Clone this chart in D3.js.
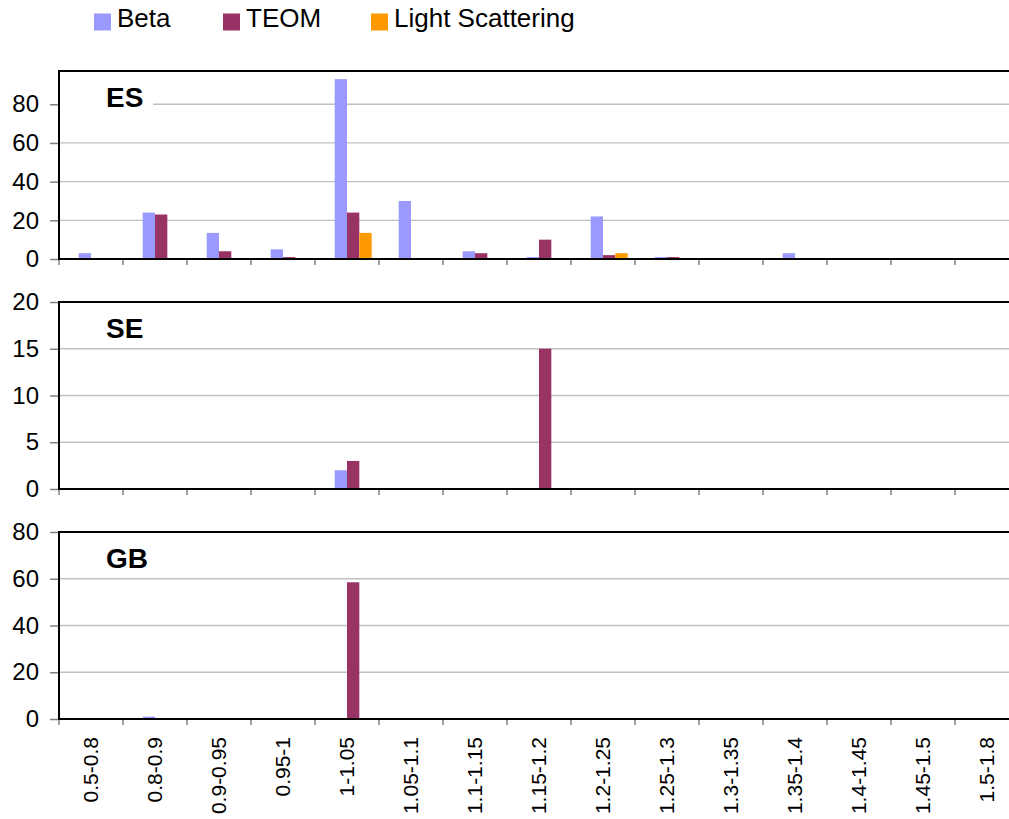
<!DOCTYPE html>
<html>
<head>
<meta charset="utf-8">
<script src="https://cdn.jsdelivr.net/npm/d3@7"></script>
<style>
  html, body { margin: 0; padding: 0; background: #fff; }
  svg { display: block; font-family: "Liberation Sans", Arial, sans-serif; }
</style>
</head>
<body>
<svg id="chart" width="1009" height="819"></svg>
<script>
// Size-class categories shared by all three panels
const categories = ["0.5-0.8", "0.8-0.9", "0.9-0.95", "0.95-1", "1-1.05", "1.05-1.1", "1.1-1.15",
  "1.15-1.2", "1.2-1.25", "1.25-1.3", "1.3-1.35", "1.35-1.4", "1.4-1.45", "1.45-1.5", "1.5-1.8"];

const seriesNames = ["Beta", "TEOM", "Light Scattering"];
const seriesColors = ["#9999ff", "#993366", "#ff9900"];

// ES
const esBeta  = [3, 24, 13.5, 5, 93, 30, 4, 1, 22, 1, 0, 3, 0, 0, 0];
const esTeom  = [0, 23, 4, 1, 24, 0, 3, 10, 2, 1, 0, 0, 0, 0, 0];
const esLight = [0, 0, 0, 0, 13.5, 0, 0, 0, 3, 0, 0, 0, 0, 0, 0];
// SE
const seBeta  = [0, 0, 0, 0, 2, 0, 0, 0, 0, 0, 0, 0, 0, 0, 0];
const seTeom  = [0, 0, 0, 0, 3, 0, 0, 15, 0, 0, 0, 0, 0, 0, 0];
const seLight = [0, 0, 0, 0, 0, 0, 0, 0, 0, 0, 0, 0, 0, 0, 0];
// GB
const gbBeta  = [0, 1, 0, 0, 0, 0, 0, 0, 0, 0, 0, 0, 0, 0, 0];
const gbTeom  = [0, 0, 0, 0, 58.5, 0, 0, 0, 0, 0, 0, 0, 0, 0, 0];
const gbLight = [0, 0, 0, 0, 0, 0, 0, 0, 0, 0, 0, 0, 0, 0, 0];

const esTicks = [0, 20, 40, 60, 80];
const seTicks = [0, 5, 10, 15, 20];
const gbTicks = [0, 20, 40, 60, 80];

const panels = [
  { name: "ES", series: [esBeta, esTeom, esLight], max: 97.2, ticks: esTicks, top: 71,  bottom: 259 },
  { name: "SE", series: [seBeta, seTeom, seLight], max: 20,   ticks: seTicks, top: 302, bottom: 489 },
  { name: "GB", series: [gbBeta, gbTeom, gbLight], max: 80,   ticks: gbTicks, top: 532, bottom: 719 }
];

const svg = d3.select("#chart");
const left = 59, right = 1019;

const x0 = d3.scaleBand().domain(categories).range([left, right]).padding(0);
// four slots per category; the first slot stays empty
const x1 = d3.scaleBand().domain(["", ...seriesNames])
  .range([x0.bandwidth() * 0.115, x0.bandwidth() * 0.885]).padding(0);

panels.forEach((p, pi) => {
  const y = d3.scaleLinear().domain([0, p.max]).range([p.bottom, p.top]);
  const g = svg.append("g");

  // horizontal gridlines
  g.selectAll("line.grid").data(p.ticks.filter(t => t > 0 && y(t) > p.top + 1))
    .join("line").attr("class", "grid")
    .attr("x1", left).attr("x2", right)
    .attr("y1", d => y(d)).attr("y2", d => y(d))
    .attr("stroke", "#c0c0c0").attr("stroke-width", 1.3);

  // panel label on a white box
  g.append("rect").attr("x", left + 1).attr("y", p.top + 12).attr("width", 93).attr("height", 28).attr("fill", "#fff");
  g.append("text").attr("x", 106).attr("y", p.top + 36)
    .attr("font-size", 28).attr("font-weight", "bold").attr("fill", "#000").text(p.name);

  // bars
  p.series.forEach((vals, si) => {
    g.selectAll(null).data(vals.map((v, i) => ({ c: categories[i], v })).filter(d => d.v > 0))
      .join("rect")
      .attr("x", d => x0(d.c) + x1(seriesNames[si]))
      .attr("width", x1.bandwidth())
      .attr("y", d => y(d.v))
      .attr("height", d => p.bottom - y(d.v))
      .attr("fill", seriesColors[si]);
  });

  // y axis
  const yAxis = d3.axisLeft(y).tickValues(p.ticks).tickSize(9).tickPadding(11).tickFormat(d3.format("d"));
  const ya = g.append("g").attr("transform", `translate(${left},0)`).call(yAxis);
  ya.select(".domain").remove();
  ya.selectAll(".tick line").attr("stroke", "#808080").attr("stroke-width", 1.5);
  ya.selectAll(".tick text").attr("font-size", 24).attr("fill", "#000")
    .attr("font-family", "Liberation Sans, Arial, sans-serif");

  // x axis ticks at category boundaries
  const bounds = categories.map(c => x0(c));
  g.selectAll("line.xt").data(bounds).join("line").attr("class", "xt")
    .attr("x1", d => d).attr("x2", d => d)
    .attr("y1", p.bottom).attr("y2", p.bottom + 6)
    .attr("stroke", "#808080").attr("stroke-width", 1.5);

  // plot frame: top, left, bottom
  g.append("line").attr("x1", left).attr("x2", right).attr("y1", p.top).attr("y2", p.top)
    .attr("stroke", "#000").attr("stroke-width", 2);
  g.append("line").attr("x1", left).attr("x2", left).attr("y1", p.top - 1).attr("y2", p.bottom + 1)
    .attr("stroke", "#000").attr("stroke-width", 2);
  g.append("line").attr("x1", left - 1).attr("x2", right).attr("y1", p.bottom).attr("y2", p.bottom)
    .attr("stroke", "#000").attr("stroke-width", 2.2);

  // category labels under the last panel
  if (pi === panels.length - 1) {
    const xAxis = d3.axisBottom(x0).tickSize(0).tickPadding(0);
    const xa = g.append("g").attr("transform", `translate(0,${p.bottom})`).call(xAxis);
    xa.select(".domain").remove();
    xa.selectAll(".tick text")
      .attr("font-size", 21).attr("fill", "#000")
      .attr("font-family", "Liberation Sans, Arial, sans-serif")
      .attr("text-anchor", "end")
      .attr("transform", "rotate(-90)")
      .attr("x", -18).attr("y", 0).attr("dy", "0.33em");
  }
});

// legend
const legendX = [94, 223, 371];
const legend = svg.append("g");
seriesNames.forEach((s, i) => {
  legend.append("rect").attr("x", legendX[i]).attr("y", 13.5).attr("width", 17).attr("height", 17)
    .attr("fill", seriesColors[i]);
  legend.append("text").attr("x", legendX[i] + 23).attr("y", 27)
    .attr("font-size", 26).attr("fill", "#000").text(s);
});
</script>
</body>
</html>
